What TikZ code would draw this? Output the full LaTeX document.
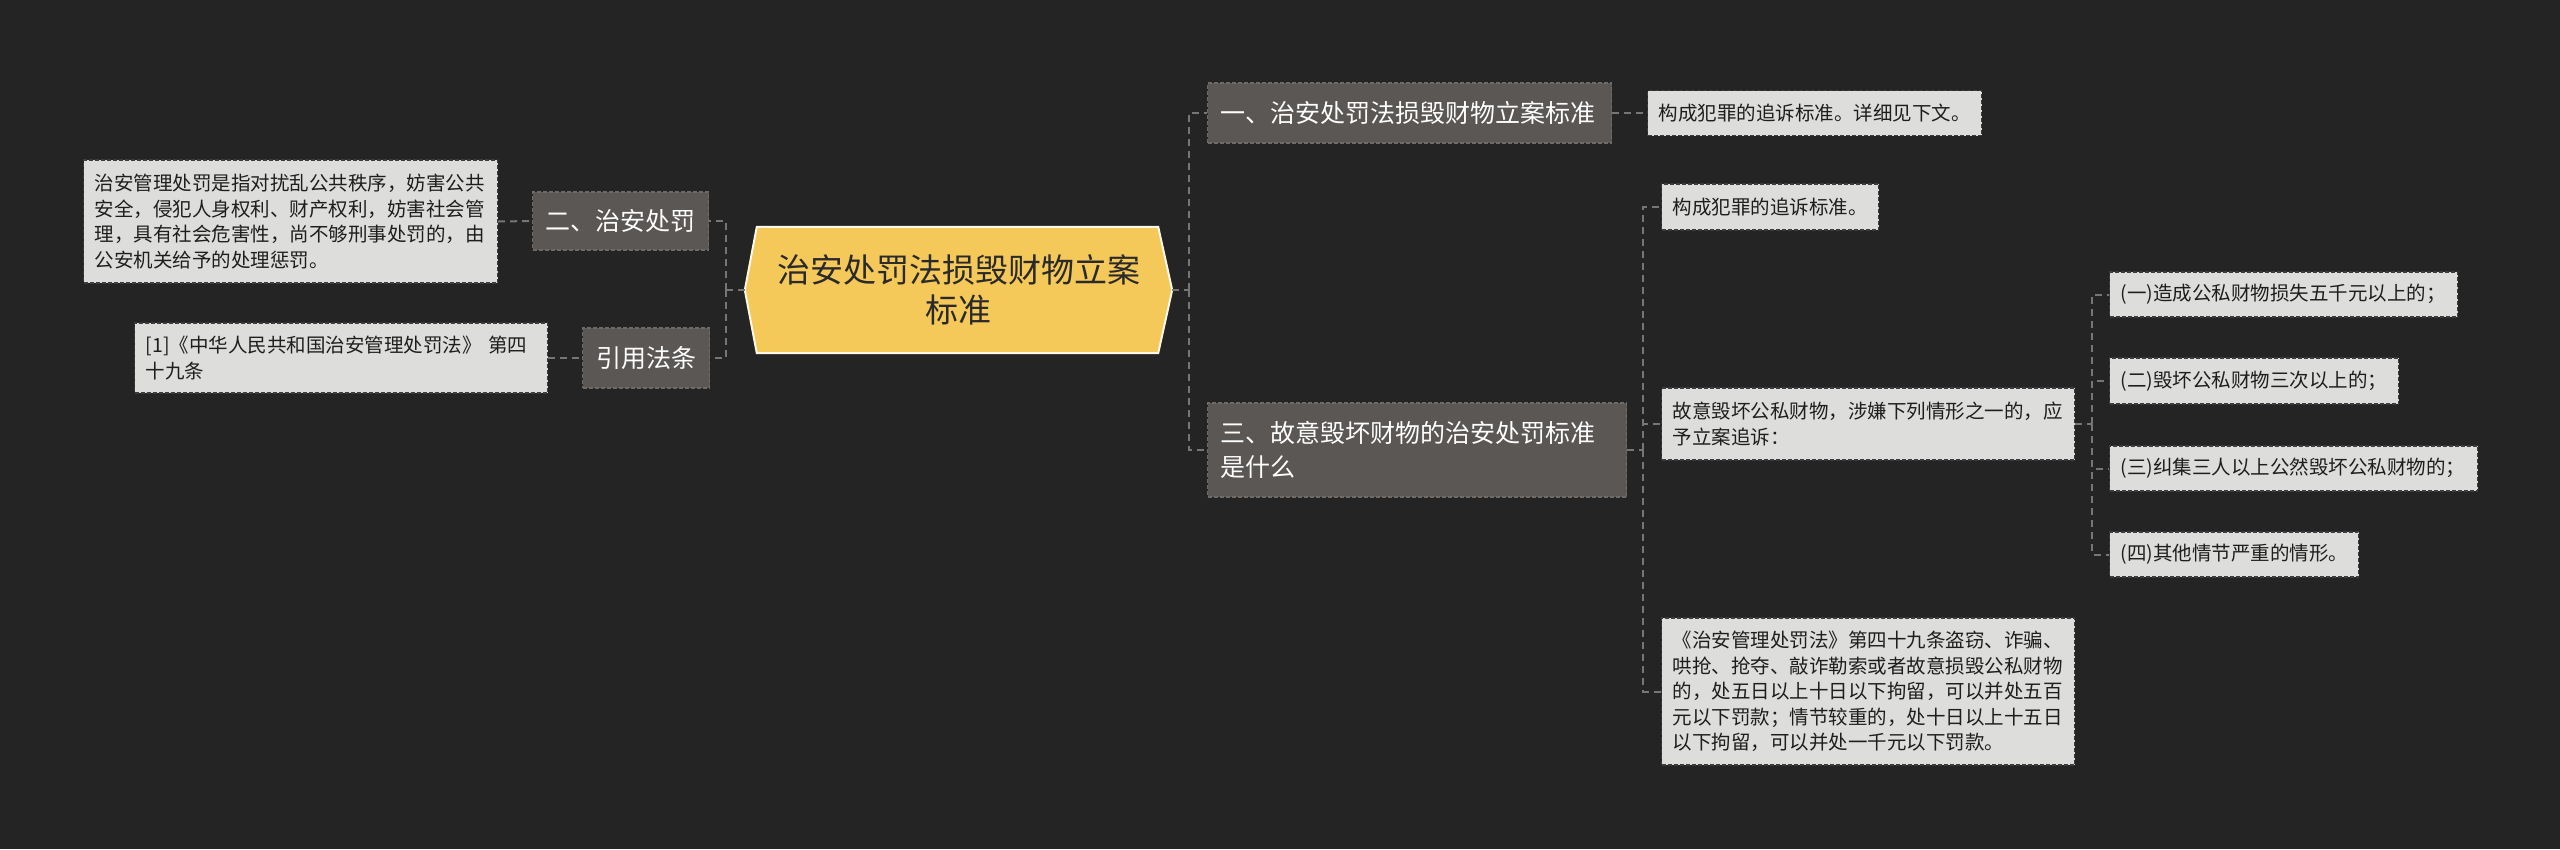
\documentclass[tikz,border=0pt]{standalone}
\usepackage{fontspec}
\setmainfont{Noto Sans CJK SC}
\newfontfamily\cjk{Noto Sans CJK SC}
\definecolor{bgc}{HTML}{242424}
\definecolor{hexfill}{HTML}{F5C85A}
\definecolor{hexline}{HTML}{FFF8E6}
\definecolor{hextext}{HTML}{2A2A2A}
\definecolor{darkbox}{HTML}{5A5755}
\definecolor{darkline}{HTML}{6E6A67}
\definecolor{lightbox}{HTML}{DDDDDB}
\definecolor{lightline}{HTML}{3C3C3C}
\definecolor{lighttext}{HTML}{1E1E1E}
\definecolor{connc}{HTML}{767676}
\tikzset{
  conn/.style={draw=connc, line width=2pt, dash pattern=on 7pt off 5pt},
  darknode/.style={fill=darkbox, draw=darkline, line width=1.2pt, dash pattern=on 4pt off 2pt,
    text=white, font=\cjk\fontsize{25}{34}\selectfont, inner xsep=13pt, inner ysep=0pt, anchor=west, align=left},
  lightnode/.style={fill=lightbox, draw=lightline, line width=1.2pt, dash pattern=on 4pt off 2pt,
    text=lighttext, font=\cjk\fontsize{19.5}{25.5}\selectfont, inner xsep=11pt, inner ysep=0pt, anchor=west, align=left},
  hexbox/.style={minimum width=427pt, minimum height=126pt, inner sep=0pt},
  hextxt/.style={text=hextext, font=\cjk\fontsize{33}{40}\selectfont, align=center, inner sep=0pt}
}
\begin{document}
\begin{tikzpicture}[x=1pt,y=-1pt]
\fill[bgc] (0,0) rectangle (2560,849);
\useasboundingbox (0,0) rectangle (2560,849);

% centre
\node[hexbox] (hex) at (958.5,290) {};
\filldraw[fill=hexfill, draw=hexline, line width=2pt]
  (hex.west) -- ([xshift=12pt]hex.north west) -- ([xshift=-14pt]hex.north east)
  -- (hex.east) -- ([xshift=-14pt]hex.south east) -- ([xshift=12pt]hex.south west) -- cycle;
\node[hextxt] (hext) at (hex.center) {治安处罚法损毁财物立案\\标准};

% left
\node[darknode, minimum width=176pt, minimum height=58pt, align=center] (n2) at (532,221) {二、治安处罚};
\node[darknode, minimum width=127pt, minimum height=60pt, align=center] (n3) at (582,358) {引用法条};
\node[lightnode, text width=392pt, minimum height=123pt] (l1) at (83,221.5)
  {治安管理处罚是指对扰乱公共秩序，妨害公共\\安全，侵犯人身权利、财产权利，妨害社会管\\理，具有社会危害性，尚不够刑事处罚的，由\\公安机关给予的处理惩罚。};
\node[lightnode, text width=391pt, minimum height=70pt] (l2) at (134,358)
  {[1]《中华人民共和国治安管理处罚法》 第四\\十九条};

% right
\node[darknode, text width=378pt, minimum height=60pt] (r1) at (1207,113) {一、治安处罚法损毁财物立案标准};
\node[lightnode, text width=312pt, minimum height=45pt] (r1a) at (1647,113) {构成犯罪的追诉标准。详细见下文。};
\node[darknode, text width=393pt, minimum height=94pt] (r3) at (1207,450) {三、故意毁坏财物的治安处罚标准\\是什么};
\node[lightnode, text width=195pt, minimum height=46pt] (r3a) at (1661,207) {构成犯罪的追诉标准。};
\node[lightnode, text width=391pt, minimum height=72pt] (r3b) at (1661,424) {故意毁坏公私财物，涉嫌下列情形之一的，应\\予立案追诉：};
\node[lightnode, text width=391pt, minimum height=147pt] (r3c) at (1661,691.5)
  {《治安管理处罚法》第四十九条盗窃、诈骗、\\哄抢、抢夺、敲诈勒索或者故意损毁公私财物\\的，处五日以上十日以下拘留，可以并处五百\\元以下罚款；情节较重的，处十日以上十五日\\以下拘留，可以并处一千元以下罚款。};
\node[lightnode, text width=326pt, minimum height=45pt] (c1) at (2109,294.5) {(一)造成公私财物损失五千元以上的；};
\node[lightnode, text width=267pt, minimum height=46pt] (c2) at (2109,381) {(二)毁坏公私财物三次以上的；};
\node[lightnode, text width=346pt, minimum height=45pt] (c3) at (2109,468.5) {(三)纠集三人以上公然毁坏公私财物的；};
\node[lightnode, text width=227pt, minimum height=45pt] (c4) at (2109,554.5) {(四)其他情节严重的情形。};

% connectors left
\coordinate (lj) at (726,290);
\draw[conn] (hex.west) -- (lj);
\draw[conn] (lj) |- (n2.east);
\draw[conn] (lj) |- (n3.east);
\draw[conn] (l1.east) -- (n2.west);
\draw[conn] (l2.east) -- (n3.west);

% connectors right
\coordinate (rj) at (1189,290);
\draw[conn] (hex.east) -- (rj);
\draw[conn] (rj) |- (r1.west);
\draw[conn] (rj) |- (r3.west);
\draw[conn] (r1.east) -- (r1a.west);
\coordinate (r3j) at (1643,450);
\draw[conn] (r3.east) -- (r3j);
\draw[conn] (r3j) |- (r3a.west);
\draw[conn] (r3j) |- (r3b.west);
\draw[conn] (r3j) |- (r3c.west);
\coordinate (bj) at (2092,424);
\draw[conn] (r3b.east) -- (bj);
\draw[conn] (bj) |- (c1.west);
\draw[conn] (bj) |- (c2.west);
\draw[conn] (bj) |- (c3.west);
\draw[conn] (bj) |- (c4.west);
\end{tikzpicture}
\end{document}
